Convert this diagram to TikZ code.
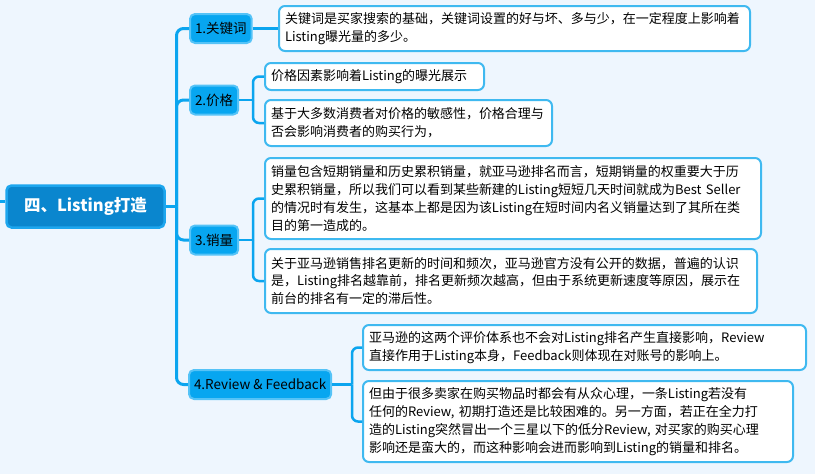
\documentclass[tikz,border=0pt]{standalone}
\usepackage{fontspec}
\setmainfont{Noto Sans CJK SC}
\usepackage{tikz}
\definecolor{bgblue}{HTML}{EEF6FE}
\definecolor{linkblue}{HTML}{0BA5EF}
\definecolor{rootfill}{HTML}{0A86CE}
\definecolor{rootedge}{HTML}{1DA6EE}
\definecolor{topicfill}{HTML}{07A6F0}
\definecolor{topicedge}{HTML}{55C3F7}
\definecolor{noteedge}{HTML}{3FB9F0}

\begin{document}
\begin{tikzpicture}[x=1pt,y=-1pt,
  rootbox/.style={rounded corners=5pt,fill=rootfill,draw=rootedge,line width=2.5pt,text=white,
    font=\fontsize{16.5}{19}\selectfont\bfseries,minimum width=158pt,minimum height=42pt},
  topic/.style={rounded corners=5pt,fill=topicfill,draw=topicedge,line width=2pt,
    font=\fontsize{13.5}{16}\selectfont,inner xsep=5pt,minimum height=29pt,anchor=west},
  note/.style={rounded corners=6pt,fill=white,draw=noteedge,line width=2pt,
    font=\fontsize{13}{17.8}\selectfont,align=left,inner xsep=6pt,anchor=west},
  link/.style={draw=linkblue,line width=3pt,rounded corners=7pt},
  sublink/.style={draw=linkblue,line width=2.5pt,rounded corners=6pt}]

\fill [bgblue] (0,0) rectangle (815,474);
\useasboundingbox (0,0) rectangle (815,474);

\node [rootbox] at (85.5,206.5) (root) {四、Listing打造};

\node [topic] at (189,28.5) (k) {1.关键词};
\node [topic] at (189,100) (p) {2.价格};
\node [topic] at (189,240) (s) {3.销量};
\node [topic] at (188,384.5) (r) {4.Review \& Feedback};

\node [note,text width=459pt,minimum height=45pt] at (278,28.5) (k1) {关键词是买家搜索的基础，关键词设置的好与坏、多与少，在一定程度上影响着\\Listing曝光量的多少。};
\node [note,text width=207pt,minimum height=27pt] at (264,76.5) (p1) {价格因素影响着Listing的曝光展示};
\node [note,text width=275pt,minimum height=46pt] at (264,123) (p2) {基于大多数消费者对价格的敏感性，价格合理与\\否会影响消费者的购买行为，};
\node [note,text width=484pt,minimum height=81pt] at (264,198.5) (s1) {销量包含短期销量和历史累积销量，就亚马逊排名而言，短期销量的权重要大于历\\史累积销量，所以我们可以看到某些新建的Listing短短几天时间就成为Best Seller\\的情况时有发生，这基本上都是因为该Listing在短时间内名义销量达到了其所在类\\目的第一造成的。};
\node [note,text width=480pt,minimum height=64pt] at (264,281) (s2) {关于亚马逊销售排名更新的时间和频次，亚马逊官方没有公开的数据，普遍的认识\\是，Listing排名越靠前，排名更新频次越高，但由于系统更新速度等原因，展示在\\前台的排名有一定的滞后性。};
\node [note,text width=431pt,minimum height=45pt] at (362,347.5) (r1) {亚马逊的这两个评价体系也不会对Listing排名产生直接影响，Review\\直接作用于Listing本身，Feedback则体现在对账号的影响上。};
\node [note,text width=418pt,minimum height=81pt] at (362,421.5) (r2) {但由于很多卖家在购买物品时都会有从众心理，一条Listing若没有\\任何的Review, 初期打造还是比较困难的。另一方面，若正在全力打\\造的Listing突然冒出一个三星以下的低分Review, 对买家的购买心理\\影响还是蛮大的，而这种影响会进而影响到Listing的销量和排名。};

\coordinate (o) at (0,201);
\coordinate (t) at (176.5,206.5);
\coordinate (tp) at (253,100);
\coordinate (ts) at (253,240);
\coordinate (tr) at (352,384.5);

\draw [link] (o) -- (o -| root.west);
\draw [link] (root.east) -- (t);
\draw [link] (t) |- (k.west);
\draw [link] (t) |- (p.west);
\draw [link] (t) |- (s.west);
\draw [link] (t) |- (r.west);

\draw [sublink] (k.east) -- (k1.west);
\draw [sublink] (p.east) -- (tp);
\draw [sublink] (tp) |- (p1.west);
\draw [sublink] (tp) |- (p2.west);
\draw [sublink] (s.east) -- (ts);
\draw [sublink] (ts) |- (s1.west);
\draw [sublink] (ts) |- (s2.west);
\draw [sublink] (r.east) -- (tr);
\draw [sublink] (tr) |- (r1.west);
\draw [sublink] (tr) |- (r2.west);
\end{tikzpicture}
\end{document}
